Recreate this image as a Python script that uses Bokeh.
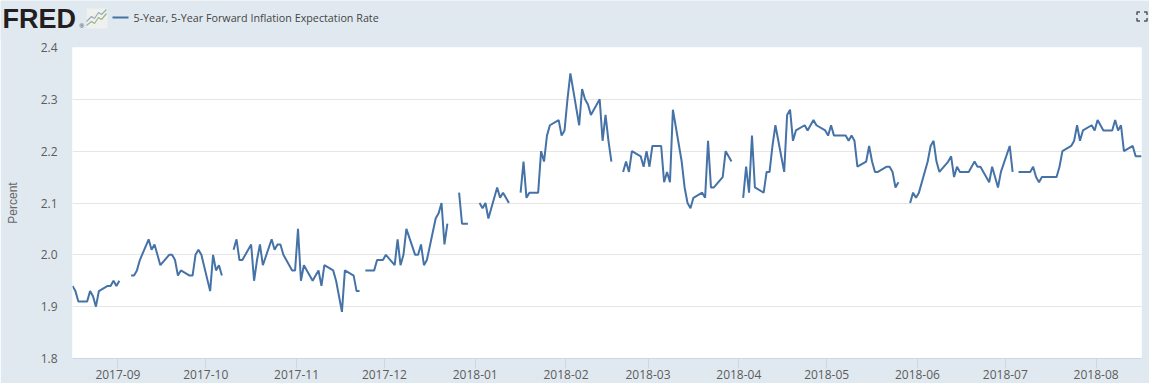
import pandas as pd
from bokeh.core.properties import value
from bokeh.embed import file_html
from bokeh.layouts import column
from bokeh.models import ColumnDataSource, FixedTicker, Range1d
from bokeh.plotting import figure
from bokeh.resources import INLINE

N = float("nan")
SERIES_NAME = "5-Year, 5-Year Forward Inflation Expectation Rate"
START = "2017-08-16"
END = "2018-08-16"

# one value per business day, NaN on market holidays
aug_2017 = [1.94, 1.93, 1.91, 1.91, 1.93, 1.92, 1.90, 1.93, 1.94, 1.94, 1.95, 1.94]
sep_2017 = [1.95, N, 1.96, 1.96, 1.97, 1.99, 2.03, 2.01, 2.02, 2.00, 1.98, 2.00, 2.00, 1.99, 1.96, 1.97,
            1.96, 1.96, 2.00, 2.01, 2.00]
oct_2017 = [1.93, 2.00, 1.97, 1.98, 1.96, N, 2.01, 2.03, 1.99, 1.99, 2.02, 1.95, 1.99, 2.02, 1.98,
            2.03, 2.01, 2.02, 2.02, 2.00, 1.97, 1.97]
nov_2017 = [2.05, 1.95, 1.98, 1.95, 1.96, 1.97, 1.94, 1.98, 1.97, 1.95, 1.92, 1.89, 1.97,
            1.96, 1.93, 1.93, N, 1.97, 1.97, 1.99, 1.99, 1.99]
dec_2017 = [2.00, 1.98, 2.03, 1.98, 2.00, 2.05, 2.00, 2.00, 2.02, 1.98, 1.99, 2.07, 2.08, 2.10, 2.02, 2.06,
            N, 2.12, 2.06, 2.06, 2.06]
jan_2018 = [N, 2.10, 2.09, 2.10, 2.07, 2.13, 2.11, 2.12, 2.11, 2.10, N, 2.12, 2.18, 2.11, 2.12,
            2.12, 2.20, 2.18, 2.23, 2.25, 2.26, 2.23]
feb_2018 = [2.24, 2.30, 2.35, 2.25, 2.32, 2.30, 2.29, 2.27, 2.30, 2.22, 2.27, 2.22, 2.18,
            N, 2.16, 2.18, 2.16, 2.20, 2.19, 2.17, 2.20]
mar_2018 = [2.17, 2.21, 2.21, 2.14, 2.16, 2.14, 2.28, 2.18, 2.13, 2.10, 2.09, 2.11, 2.12, 2.11, 2.22,
            2.13, 2.13, 2.15, 2.20, 2.19, 2.18, N]
apr_2018 = [2.11, 2.17, 2.12, 2.23, 2.13, 2.12, 2.16, 2.16, 2.21, 2.25, 2.16, 2.27, 2.28, 2.22, 2.24,
            2.25, 2.24, 2.25, 2.26, 2.25]
may_2018 = [2.24, 2.23, 2.25, 2.23, 2.23, 2.23, 2.22, 2.23, 2.22, 2.17, 2.18, 2.21, 2.18, 2.16, 2.16,
            2.17, 2.17, 2.16, 2.13, 2.14, N, 2.10, 2.12, 2.11]
jun_2018 = [2.12, 2.18, 2.21, 2.22, 2.18, 2.16, 2.18, 2.19, 2.15, 2.17, 2.16, 2.16, 2.17, 2.18, 2.17, 2.17,
            2.14, 2.17, 2.15, 2.13, 2.16]
jul_2018 = [2.21, 2.16, N, 2.16, 2.16, 2.16, 2.17, 2.15, 2.14, 2.15, 2.15, 2.15, 2.15, 2.17, 2.20,
            2.21, 2.22, 2.25, 2.22, 2.24, 2.25, 2.24]
aug_2018 = [2.26, 2.25, 2.24, 2.24, 2.26, 2.24, 2.25, 2.20, 2.21, 2.19, 2.19, 2.19]

rate = (aug_2017 + sep_2017 + oct_2017 + nov_2017 + dec_2017 + jan_2018 + feb_2018
        + mar_2018 + apr_2018 + may_2018 + jun_2018 + jul_2018 + aug_2018)
dates = pd.bdate_range(START, periods=len(rate))

y_ticks = [1.8, 1.9, 2.0, 2.1, 2.2, 2.3, 2.4]
month_ticks = ["2017-09", "2017-10", "2017-11", "2017-12", "2018-01", "2018-02",
               "2018-03", "2018-04", "2018-05", "2018-06", "2018-07", "2018-08"]

BG = "#e1e9f0"
LINE = "#4572a7"
TXT = "#5c5c5c"


def ms(t):
    return pd.Timestamp(t).value / 1e6


# header strip: its data coordinates are page pixels
h = figure(width=1149, height=40, output_backend="svg", toolbar_location=None,
           x_range=Range1d(0, 1149), y_range=Range1d(40, 0), x_axis_location=None, y_axis_location=None,
           min_border=0, background_fill_color=BG, border_fill_color=BG, outline_line_color=None,
           frame_align=False)
h.grid.visible = False
h.text([2], [18], text=["FRED"], text_font=value("Liberation Sans"), text_font_style="bold",
       text_font_size="27px", text_color="#231f20", text_baseline="middle")
h.text([79], [25], text=["®"], text_font=value("Liberation Sans"), text_font_size="6px",
       text_color="#231f20", text_baseline="middle")
h.patch([86, 107, 107, 86], [8, 8, 28, 28], fill_color="#eef1ee", line_color=None)
h.line([86, 91, 94, 98, 101, 106], [25, 21, 23, 17, 19, 13], line_color="#9db48c", line_width=1.2)
h.line([86, 91, 94, 98, 101, 106], [21, 16, 18, 12, 14, 9], line_color="#9aa9b8", line_width=1.2)
h.line([112, 128], [17, 17], line_color=LINE, line_width=2)
h.text([133], [17], text=[SERIES_NAME], text_font=value("Open Sans"), text_font_size="10.75px",
       text_color="#444444", text_baseline="middle")
for cx, cy, dx, dy in [(1136.5, 11.5, 1, 1), (1146.5, 11.5, -1, 1), (1136.5, 20.5, 1, -1), (1146.5, 20.5, -1, -1)]:
    h.line([cx, cx, cx + 3 * dx], [cy + 3 * dy, cy, cy], line_color="#555555", line_width=1.5)

p = figure(width=1149, height=344, output_backend="svg", toolbar_location=None,
           x_range=Range1d(ms(START), ms(END)), y_range=Range1d(1.8, 2.4),
           min_border_left=72, min_border_right=8, min_border_top=8, min_border_bottom=25,
           background_fill_color="white", border_fill_color=BG, outline_line_color=None,
           frame_align=False, margin=(-1, 0, 0, 0))

src = ColumnDataSource(dict(x=dates, y=rate))
p.line("x", "y", source=src, line_color=LINE, line_width=2)

# the source's month ticks sit half a day ahead of the month start
tick_pos = [ms(m + "-01") - 12 * 3600 * 1000 for m in month_ticks]
xa = p.xaxis[0]
xa.ticker = FixedTicker(ticks=tick_pos)
xa.major_label_overrides = dict(zip(tick_pos, month_ticks))
xa.major_tick_out = 10
xa.major_tick_in = 0
xa.minor_tick_line_color = None
xa.major_tick_line_color = "#ccd6eb"
xa.axis_line_color = "#ccd6eb"
xa.major_label_standoff = 1
xa.major_label_text_font = "Open Sans"
xa.major_label_text_font_size = "12px"
xa.major_label_text_color = TXT

ya = p.yaxis[0]
ya.ticker = FixedTicker(ticks=y_ticks)
ya.major_label_overrides = {t: f"{t:.1f}" for t in y_ticks}
ya.axis_line_color = None
ya.major_tick_line_color = None
ya.major_tick_out = 0
ya.major_tick_in = 0
ya.minor_tick_line_color = None
ya.major_label_standoff = 15
ya.major_label_text_font = "Open Sans"
ya.major_label_text_font_size = "12px"
ya.major_label_text_color = TXT
ya.axis_label = "Percent"
ya.axis_label_text_font = "Liberation Sans"
ya.axis_label_text_font_size = "12px"
ya.axis_label_text_font_style = "normal"
ya.axis_label_text_color = "#666666"
ya.axis_label_standoff = 18

p.xgrid.grid_line_color = None
p.ygrid.grid_line_color = "#e6e6e6"
p.ygrid.grid_line_width = 1

page = column(h, p, spacing=0)
open("out.html", "w").write(file_html(page, INLINE))
